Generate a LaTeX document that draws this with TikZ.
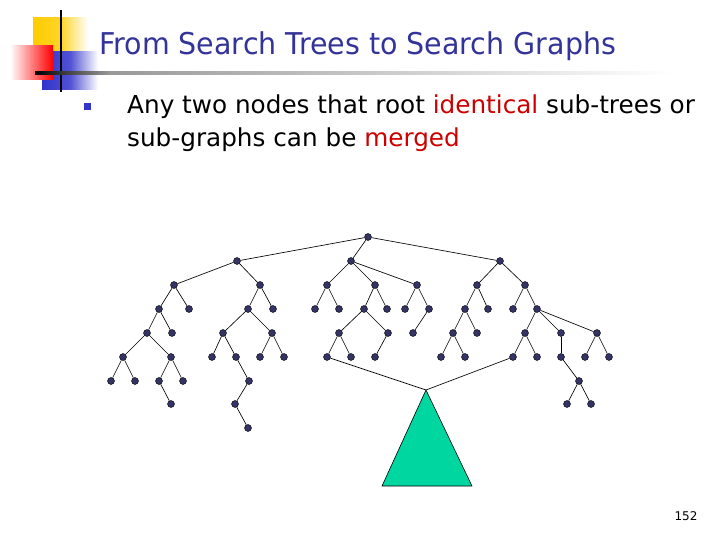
\documentclass[tikz,border=0pt]{standalone}
\usepackage{fontspec}
\setmainfont{DejaVu Sans}
\newfontfamily\titlefont[FakeStretch=0.95]{DejaVu Sans}
\definecolor{titleblue}{RGB}{51,51,153}
\definecolor{hired}{RGB}{204,0,0}
\definecolor{navy}{RGB}{51,51,102}
\definecolor{mint}{RGB}{0,214,160}
\definecolor{logoyellow}{RGB}{255,204,0}
\definecolor{logoblue}{RGB}{51,51,204}
\definecolor{logored}{RGB}{255,0,0}
\tikzset{
  dot/.style={circle, inner sep=0pt, minimum size=7pt, fill=navy, draw=black, line width=0.4pt},
  edge/.style={draw=black, line width=0.65pt},
  txt/.style={anchor=base west, inner sep=0pt}
}
\begin{document}
\begin{tikzpicture}[x=1pt,y=-1pt]
\useasboundingbox (0,0) rectangle (720,540);
\fill[white] (0,0) rectangle (720,540);
% logo
\shade[left color=logoyellow, right color=white, middle color=logoyellow!85] (33,18) rectangle (88,52);
\shade[left color=logoblue, right color=white, middle color=logoblue!85] (42,52) rectangle (98,90);
\shade[shading=axis, shading angle=45, left color=white, right color=logored] (10,46) rectangle (53,80);
\draw[line width=2pt] (61,10) -- (61,92);
\shade[left color=black, right color=gray!80] (35,72) rectangle (110,74.5);
\shade[left color=gray!80, right color=white] (110,72) rectangle (672,74.5);
% title and bullet
\node[txt, font=\titlefont\fontsize{30}{36}\selectfont, text=titleblue] (title) at (99,55) {From Search Trees to Search Graphs};
\fill[logoblue] (84,103) rectangle (91,110);
\node[txt, font=\fontsize{24.7}{30}\selectfont] (line1) at (127,114) {Any two nodes that root \textcolor{hired}{identical} sub-trees or};
\node[txt, font=\fontsize{24.7}{30}\selectfont] (line2) at (127,147) {sub-graphs can be \textcolor{hired}{merged}};
\node[font=\fontsize{12}{14}\selectfont] (pnum) at (686,516) {152};
% tree nodes
\foreach \n/\x/\y in {
 r/368/237, a/237/261, b/351/261, c/500/261,
 a1/174/285, a2/260/285,
 a11/159/309, a12/189/309, a111/147/333, a112/172/333,
 a1111/123/357, a1112/171/357, a11111/111/381, a11112/135/381,
 a11121/159/381, a11122/183/381, a111211/171/404,
 a21/248/309, a22/273/309, a211/223/333, a212/272/333,
 a2111/212/357, a2112/236/357, a21121/249/381, a211211/235/404, a2112111/248/428,
 a2121/260/357, a2122/284/357,
 b1/327/285, b2/375/285, b3/417/285,
 b11/315/309, b12/339/309, b21/364/309, b22/387/309, b31/405/309, b32/429/309,
 b211/339/333, b212/388/333, b321/413/333,
 b2111/327/357, b2112/351/357, b2121/375/357,
 c1/477/285, c2/525/285,
 c11/465/309, c12/488/309, c21/513/309, c22/537/309,
 c111/453/333, c112/477/333, c1111/441/357, c1112/465/357,
 c221/525/333, c222/561/333, c223/597/333,
 c2211/513/357, c2212/537/357, c2221/561/357,
 c22211/579/381, c222111/567/404, c222112/591/404,
 c2231/585/357, c2232/609/357}
 \node[dot] (\n) at (\x,\y) {};
% merged sub-graph
\coordinate (apex) at (426,390);
\coordinate (bl) at (382,486);
\coordinate (br) at (472,486);
\filldraw[fill=mint, draw=black, line width=0.6pt] (apex) -- (br) -- (bl) -- cycle;
% edges
\foreach \p/\q in {
 r/a, r/b, r/c,
 a/a1, a/a2, a1/a11, a1/a12, a11/a111, a11/a112,
 a111/a1111, a111/a1112, a1111/a11111, a1111/a11112,
 a1112/a11121, a1112/a11122, a11121/a111211,
 a2/a21, a2/a22, a21/a211, a21/a212, a211/a2111, a211/a2112,
 a2112/a21121, a21121/a211211, a211211/a2112111, a212/a2121, a212/a2122,
 b/b1, b/b2, b/b3, b1/b11, b1/b12, b2/b21, b2/b22, b3/b31, b3/b32,
 b21/b211, b21/b212, b32/b321, b211/b2111, b211/b2112, b212/b2121,
 c/c1, c/c2, c1/c11, c1/c12, c2/c21, c2/c22,
 c11/c111, c11/c112, c111/c1111, c111/c1112,
 c22/c221, c22/c222, c22/c223, c221/c2211, c221/c2212,
 c222/c2221, c2221/c22211, c22211/c222111, c22211/c222112,
 c223/c2231, c223/c2232,
 b2111/apex, c2211/apex}
 \draw[edge] (\p) -- (\q);
\end{tikzpicture}
\end{document}
